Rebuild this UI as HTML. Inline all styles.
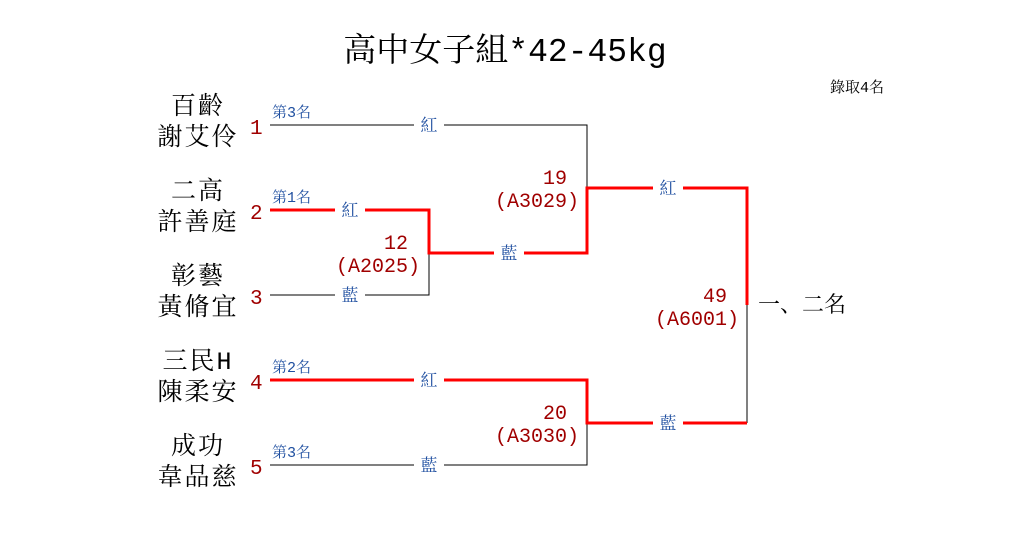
<!DOCTYPE html>
<html><head><meta charset="utf-8"><style>
body{margin:0;background:#fff}
svg text{font-family:"Liberation Mono","Noto Serif CJK SC","Noto Serif CJK TC",serif}
</style></head><body>
<svg width="1010" height="550" viewBox="0 0 1010 550" xmlns="http://www.w3.org/2000/svg">
<rect width="1010" height="550" fill="#fff"/>
<text x="505" y="61" font-size="33" text-anchor="middle" fill="#000">高中女子組*42-45kg</text>
<text x="857" y="92" font-size="15" text-anchor="middle" fill="#000">錄取4名</text>
<g fill="none" stroke-width="1">
<polyline points="270,125 587,125 587,188" stroke="#000"/>
<polyline points="429,253 429,295 270,295" stroke="#000"/>
<polyline points="270,465 587,465 587,423" stroke="#000"/>
<polyline points="747,305 747,423" stroke="#000"/>
</g>
<g fill="none" stroke="#f00" stroke-width="3">
<polyline points="270,210 429,210 429,253 587,253 587,188 747,188 747,305"/>
<polyline points="270,380 587,380 587,423 747,423"/>
</g>
<g fill="#fff">
<rect x="414" y="115" width="30" height="20"/>
<rect x="335" y="200" width="30" height="20"/>
<rect x="335" y="285" width="30" height="20"/>
<rect x="494" y="243" width="30" height="20"/>
<rect x="653" y="178" width="30" height="20"/>
<rect x="414" y="370" width="30" height="20"/>
<rect x="414" y="455" width="30" height="20"/>
<rect x="653" y="413" width="30" height="20"/>
</g>
<g fill="#1f4fa0" font-size="17" text-anchor="middle">
<text x="429" y="131">紅</text>
<text x="350" y="216">紅</text>
<text x="350" y="301">藍</text>
<text x="509" y="259">藍</text>
<text x="668" y="194">紅</text>
<text x="429" y="386">紅</text>
<text x="429" y="471">藍</text>
<text x="668" y="429">藍</text>
</g>
<g fill="#1f4fa0" font-size="15">
<text x="272" y="117">第3名</text>
<text x="272" y="202">第1名</text>
<text x="272" y="372">第2名</text>
<text x="272" y="457">第3名</text>
</g>
<g fill="#a00000" font-size="21">
<text x="250" y="134">1</text>
<text x="250" y="219">2</text>
<text x="250" y="304">3</text>
<text x="250" y="389">4</text>
<text x="250" y="474">5</text>
</g>
<g fill="#a00000" font-size="20" text-anchor="end">
<text x="408" y="249">12</text>
<text x="420" y="272">(A2025)</text>
<text x="567" y="184">19</text>
<text x="579" y="207">(A3029)</text>
<text x="567" y="419">20</text>
<text x="579" y="442">(A3030)</text>
<text x="727" y="302">49</text>
<text x="739" y="325">(A6001)</text>
</g>
<g fill="#000" font-size="25" text-anchor="middle" letter-spacing="2">
<text x="198" y="114">百齡</text><text x="198" y="145">謝艾伶</text>
<text x="198" y="199">二高</text><text x="198" y="230">許善庭</text>
<text x="198" y="284">彰藝</text><text x="198" y="315">黃脩宜</text>
<text x="198" y="369">三民H</text><text x="198" y="400">陳柔安</text>
<text x="198" y="454">成功</text><text x="198" y="485">韋品慈</text>
</g>
<text x="758" y="312" font-size="22" fill="#000">一、二名</text>
</svg>
</body></html>
